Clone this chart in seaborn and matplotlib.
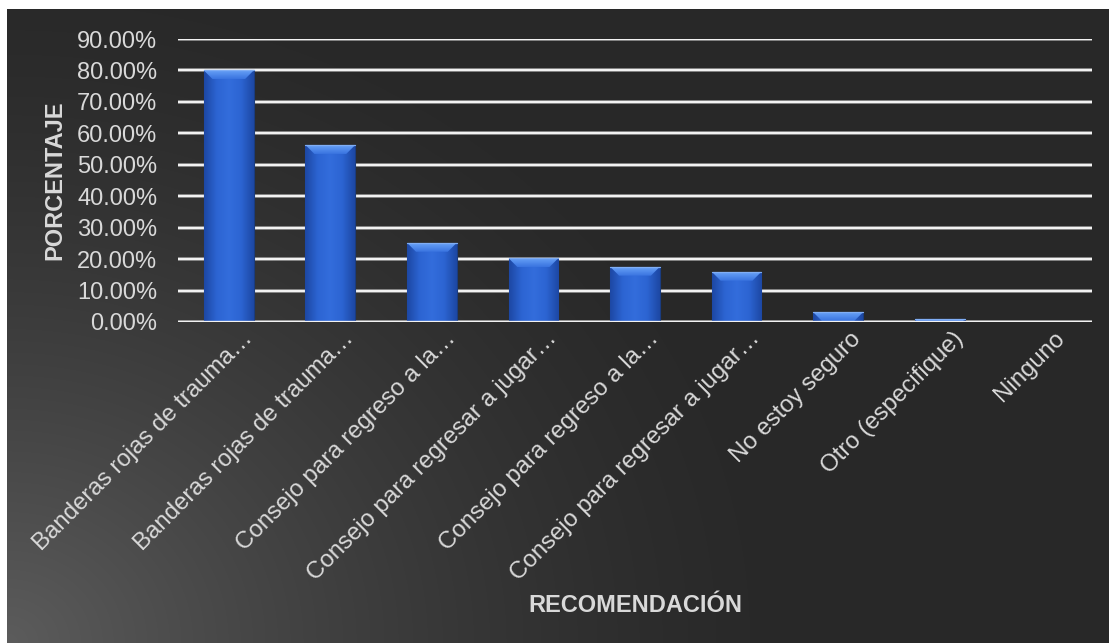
import numpy as np
import pandas as pd
import matplotlib
matplotlib.use("Agg")
import matplotlib.pyplot as plt
import matplotlib.transforms as mtrans
import seaborn as sns
from matplotlib.colors import LinearSegmentedColormap
from matplotlib.ticker import FuncFormatter

# Data
categories = [
    "Banderas rojas de trauma…",
    "Banderas rojas de trauma…",
    "Consejo para regreso a la…",
    "Consejo para regresar a jugar…",
    "Consejo para regreso a la…",
    "Consejo para regresar a jugar…",
    "No estoy seguro",
    "Otro (especifique)",
    "Ninguno",
]
porcentajes = [0.80, 0.563, 0.252, 0.203, 0.176, 0.160, 0.031, 0.008, 0.0]
yticks = [0.0, 0.1, 0.2, 0.3, 0.4, 0.5, 0.6, 0.7, 0.8, 0.9]

df = pd.DataFrame({"idx": list(range(len(categories))), "valor": porcentajes})

sns.set_theme(style="white")
plt.rcParams["font.family"] = ["Liberation Sans", "DejaVu Sans"]

W, H = 1109, 643
fig = plt.figure(figsize=(W / 100, H / 100), dpi=100, facecolor="white")

# Dark chart area with a soft light glow from the lower-left corner
bg = fig.add_axes([7 / W, 0, 1 - 7 / W, 1 - 9 / H])
bg.set_axis_off()
bw, bh = W - 7, H - 9
yy, xx = np.mgrid[0:bh, 0:bw]
d = np.hypot(xx * 0.95, (bh - 1 - yy) * 1.1)
t = np.clip(1 - d / 760, 0, 1) ** 1.5
lo, hi = 0x28 / 255, 0x5c / 255
g = lo + (hi - lo) * t
bg.imshow(np.dstack([g, g, g]), aspect="auto", extent=[0, 1, 0, 1], interpolation="bilinear")
bg.set_xlim(0, 1)
bg.set_ylim(0, 1)

# Plot area
ax_left, ax_right, ax_top, ax_bot = 178, 1092, 39, 322
ax = fig.add_axes([ax_left / W, (H - ax_bot) / H, (ax_right - ax_left) / W, (ax_bot - ax_top) / H])
ax.patch.set_alpha(0)

sns.barplot(data=df, x="idx", y="valor", order=list(range(len(categories))),
            color="#2f68d8", width=0.49, saturation=1, ax=ax, zorder=3)
ax.set_ylim(0, 0.9)
ax.set_xlim(-0.5, len(categories) - 0.5)

# data units per pixel
px_x = len(categories) / (ax_right - ax_left)
px_y = 0.9 / (ax_bot - ax_top)

# Gradient shading and bevel on each bar
bar_cmap = LinearSegmentedColormap.from_list(
    "barshade", ["#1d48a4", "#2c64d2", "#336ddc", "#2c64d2", "#1d48a4"])
bev_cmap = LinearSegmentedColormap.from_list("bevel", ["#3a74e0", "#66a0f6"])
for p in ax.patches:
    x0, y0 = p.get_x(), p.get_y()
    w, h = p.get_width(), p.get_height()
    if h <= 0:
        continue
    p.set_edgecolor("#1a3c80")
    p.set_linewidth(0.8)
    grad = np.linspace(0, 1, 64).reshape(1, -1)
    im = ax.imshow(grad, cmap=bar_cmap, aspect="auto",
                   extent=[x0, x0 + w, y0, y0 + h], zorder=3.5)
    im.set_clip_path(p)
    # light bevel along the top edge
    bev_px = min(9, h / px_y)
    bev = bev_px * px_y
    ins = bev_px * px_x
    top = y0 + h
    poly = plt.Polygon([[x0, top], [x0 + w, top], [x0 + w - ins, top - bev], [x0 + ins, top - bev]],
                       closed=True, facecolor="none", edgecolor="none", zorder=3.8)
    ax.add_patch(poly)
    vg = np.linspace(0, 1, 32).reshape(-1, 1)
    bim = ax.imshow(vg, cmap=bev_cmap, aspect="auto", origin="lower",
                    extent=[x0, x0 + w, top - bev, top], zorder=3.8)
    bim.set_clip_path(poly)
    ax.plot([x0, x0 + w], [top, top], color="#80aef5", lw=0.9, zorder=3.9)

# Grid lines
ax.set_yticks(yticks)
for v in yticks:
    ax.axhline(v, color="#8a8a8a", lw=2.6, zorder=1)
    ax.axhline(v, color="#f2f2f2", lw=1.6, zorder=1.1)
ax.axhline(0, color="#f2f2f2", lw=2.4, zorder=4)

for s in ax.spines.values():
    s.set_visible(False)

ax.yaxis.set_major_formatter(FuncFormatter(lambda v, _: f"{v * 100:.2f}%"))
ax.tick_params(axis="y", length=0, pad=15, labelsize=17, labelcolor="#d9d9d9")
ax.tick_params(axis="x", length=0, pad=6, labelsize=17.3, labelcolor="#d9d9d9")
ax.set_xticks(range(len(categories)))
ax.set_xticklabels(categories, rotation=45, ha="right", rotation_mode="anchor", va="center")
offset = mtrans.ScaledTranslation(20 / 100, -5 / 100, fig.dpi_scale_trans)
for lbl in ax.get_xticklabels():
    lbl.set_transform(lbl.get_transform() + offset)

ax.set_xlabel("")
ax.set_ylabel("")
fig.text(55 / W, 1 - 180 / H, "PORCENTAJE", rotation=90, ha="center", va="center",
         fontsize=17, fontweight="bold", color="#d9d9d9")
fig.text(635 / W, 1 - 605 / H, "RECOMENDACIÓN", ha="center", va="center",
         fontsize=17, fontweight="bold", color="#d9d9d9")

fig.savefig("out.png", dpi=100, facecolor="white")
